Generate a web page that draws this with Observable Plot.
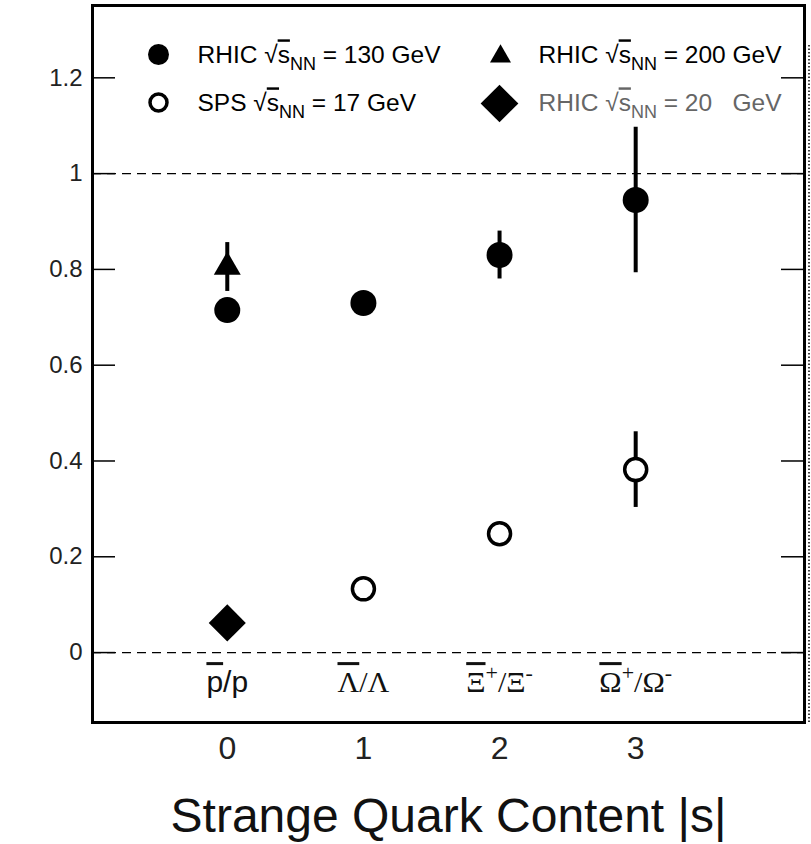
<!DOCTYPE html>
<html><head><meta charset="utf-8">
<script src="https://cdn.jsdelivr.net/npm/d3@7"></script>
<script src="https://cdn.jsdelivr.net/npm/@observablehq/plot@0.6"></script>
<style>body{margin:0;background:#fff} svg{display:block}</style>
</head><body><div id="chart"></div>
<script>
// ---- data ----
const strangeContent = [0, 1, 2, 3];
const categoryLabels = ["p/p", "Λ/Λ", "Ξ+/Ξ-", "Ω+/Ω-"];
const rhic130 = [0.715, 0.73, 0.83, 0.945];
const rhic130Err = [0, 0, 0.05, 0.152];
const sps17X = [1, 2, 3];
const sps17 = [0.133, 0.248, 0.382];
const sps17Err = [0, 0, 0.079];
const rhic200X = [0];
const rhic200 = [0.805];
const rhic200Err = [0.051];
const rhic20X = [0];
const rhic20 = [0.062];
const yTicks = [0, 0.2, 0.4, 0.6, 0.8, 1, 1.2];
const xTicks = [0, 1, 2, 3];
const refLines = [0, 1];
const legendPrefix = ["RHIC", "SPS", "RHIC", "RHIC"];
const legendEnergy = ["130", "17", "200", "20\u00a0\u00a0"];
const axisTitle = "Strange Quark Content |s|";

// ---- tables ----
const toRows = (xs, ys, es) => xs.map((x, i) => ({x, y: ys[i], e: es ? es[i] : 0}));
const d130 = toRows(strangeContent, rhic130, rhic130Err);
const d17 = toRows(sps17X, sps17, sps17Err);
const d200 = toRows(rhic200X, rhic200, rhic200Err);
const d20 = toRows(rhic20X, rhic20);
const cats = strangeContent.map((x, i) => ({x, label: categoryLabels[i]}));

const W = 811, H = 844, ML = 92, MR = 7, MT = 5, MB = 122;
const innerW = W - ML - MR;
const xDomain = [-0.99, 4.24];
const tickLen = 23;
const sans = "Liberation Sans, Arial, Helvetica, sans-serif";
const serif = "Liberation Serif, Times New Roman, serif";

const errBars = (rows) => Plot.ruleX(rows.filter(d => d.e > 0), {x: "x", y1: d => d.y - d.e, y2: d => d.y + d.e, stroke: "black", strokeWidth: 4});

const legendMarks = [];
const legendSymbols = [
  {symbol: "circle", r: 10.5, fill: "black", stroke: "none", sw: 0, dx: 66, dy: 49},
  {symbol: "circle", r: 8.5, fill: "white", stroke: "black", sw: 3.5, dx: 66, dy: 97},
  {symbol: "triangle", r: 7.8, fill: "black", stroke: "none", sw: 0, dx: 408, dy: 51},
  {symbol: "diamond2", r: 17, fill: "black", stroke: "none", sw: 0, dx: 407, dy: 98}
];
const legendText = [
  {dx: 105, dy: 50, fill: "black"},
  {dx: 105, dy: 98, fill: "black"},
  {dx: 446, dy: 50, fill: "black"},
  {dx: 446, dy: 98, fill: "#666"}
];
legendPrefix.forEach((p, i) => {
  const s = legendSymbols[i], t = legendText[i];
  legendMarks.push(Plot.dot([i], {frameAnchor: "top-left", x: null, y: null, dx: s.dx, dy: s.dy, symbol: s.symbol, r: s.r, fill: s.fill, stroke: s.stroke, strokeWidth: s.sw}));
  legendMarks.push(Plot.text([`${p} √sNN = ${legendEnergy[i]} GeV`], {frameAnchor: "top-left", dx: t.dx, dy: t.dy, textAnchor: "start", lineAnchor: "middle", fontSize: 24.5, fill: t.fill, className: "legtext"}));
});

const chart = Plot.plot({
  width: W, height: H,
  marginLeft: ML, marginRight: MR, marginTop: MT, marginBottom: MB,
  style: {fontFamily: sans, background: "white"},
  x: {domain: xDomain, axis: null},
  y: {domain: [-0.146, 1.351], axis: null},
  marks: [
    Plot.ruleY(refLines, {stroke: "black", strokeWidth: 1.3, strokeDasharray: "9,6"}),
    Plot.ruleY(yTicks, {stroke: "black", strokeWidth: 1.5, insetRight: innerW - tickLen}),
    Plot.ruleY(yTicks, {stroke: "black", strokeWidth: 1.5, insetLeft: innerW - tickLen}),
    Plot.ruleX([xDomain[1]], {dx: 4.5, stroke: "black", strokeWidth: 1.5, strokeDasharray: "1.5,2", insetTop: 40}),
    Plot.axisY(yTicks, {anchor: "left", tickSize: 0, tickPadding: 10, fontSize: 24, tickFormat: d => String(d), label: null, fill: "#222"}),
    Plot.axisX(xTicks, {anchor: "bottom", tickSize: 0, tickPadding: 14, fontSize: 32, tickFormat: d => String(d), label: null, fill: "#222"}),
    Plot.text([axisTitle], {frameAnchor: "bottom", dy: 94, fontSize: 48, lineAnchor: "middle", fill: "#111"}),
    Plot.text(cats, {x: "x", text: "label", frameAnchor: "bottom", dy: -40, lineAnchor: "middle", fontSize: 30, className: "cat", fill: "#111"}),
    errBars(d130), errBars(d17), errBars(d200),
    Plot.dot(d130, {x: "x", y: "y", r: 13, fill: "black"}),
    Plot.dot(d17, {x: "x", y: "y", r: 11, fill: "white", stroke: "black", strokeWidth: 3.5}),
    Plot.dot(d200, {x: "x", y: "y", r: 10, symbol: "triangle", fill: "black"}),
    Plot.dot(d20, {x: "x", y: "y", r: 16.7, symbol: "diamond2", fill: "black"}),
    ...legendMarks,
    Plot.frame({stroke: "black", strokeWidth: 3})
  ]
});
document.getElementById("chart").appendChild(chart);

// ---- rich text: overlines, subscripts, superscripts ----
d3.select(chart).selectAll("g.legtext text").each(function(_, i) {
  const s = d3.select(this); s.text(null);
  s.append("tspan").text(legendPrefix[i] + " √");
  s.append("tspan").text("s").style("text-decoration", "overline");
  s.append("tspan").attr("dy", 7).attr("font-size", 18).text("NN");
  s.append("tspan").attr("dy", -7).text(" = " + legendEnergy[i] + " GeV");
});
d3.select(chart).selectAll("g.cat text").each(function(_, i) {
  const label = categoryLabels[i];
  const s = d3.select(this); s.text(null);
  s.attr("font-family", label[0] === "p" ? sans : serif);
  const segs = [];
  [...label].forEach((ch, k) => {
    if (k === 0) segs.push({t: ch, over: true});
    else if (ch === "+" || ch === "-") segs.push({t: ch, sup: true});
    else if (segs.length && !segs[segs.length - 1].sup && !segs[segs.length - 1].over) segs[segs.length - 1].t += ch;
    else segs.push({t: ch});
  });
  let cur = 0;
  for (const g of segs) {
    const target = g.sup ? -12 : 0;
    const ts = s.append("tspan").text(g.t);
    if (target !== cur) ts.attr("dy", target - cur);
    cur = target;
    if (g.over) ts.style("text-decoration", "overline");
    if (g.sup) ts.attr("font-size", 22);
  }
});
</script>
</body></html>
